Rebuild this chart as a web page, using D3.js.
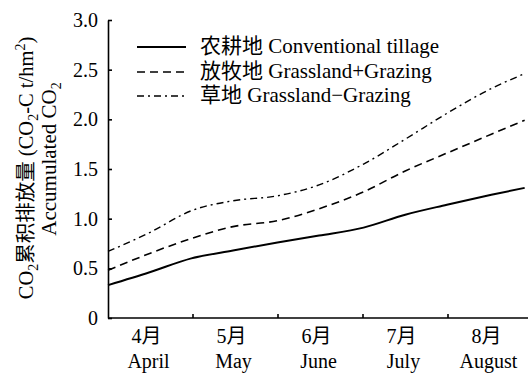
<!DOCTYPE html>
<html>
<head>
<meta charset="utf-8">
<script src="https://cdn.jsdelivr.net/npm/d3@7"></script>
<style>
  html, body { margin: 0; padding: 0; background: #fff; }
  svg { display: block; }
  text { font-family: "Liberation Serif", "Times New Roman", "Noto Sans CJK SC", serif; fill: #000; }
</style>
</head>
<body>
<svg id="chart" width="530" height="378"></svg>
<script>
// Days after 1 April at which the cumulative CO2 flux was sampled
const sampleDays = [0, 15, 30, 45, 61, 76, 92, 107, 122, 138, 150];

// Accumulated CO2 (CO2-C t/hm2) for each land use
const conventionalTillage = [0.33, 0.46, 0.60, 0.68, 0.76, 0.83, 0.91, 1.04, 1.14, 1.24, 1.31];
const grasslandGrazing    = [0.48, 0.65, 0.80, 0.92, 0.98, 1.10, 1.27, 1.48, 1.66, 1.85, 1.99];
const grasslandNoGrazing  = [0.67, 0.86, 1.08, 1.18, 1.23, 1.34, 1.55, 1.80, 2.06, 2.31, 2.46];

// Axis labels
const monthsZh = ["4月", "5月", "6月", "7月", "8月"];
const monthsEn = ["April", "May", "June", "July", "August"];
const yTicks = [0, 0.5, 1.0, 1.5, 2.0, 2.5, 3.0];

const seriesNames = ["农耕地 Conventional tillage", "放牧地 Grassland+Grazing", "草地 Grassland\u2212Grazing"];
const seriesDash = [null, "8,5", "7,4,2,4"];
const seriesWidth = [2, 1.6, 1.4];
const seriesValues = [conventionalTillage, grasslandGrazing, grasslandNoGrazing];

const svg = d3.select("#chart");
const plotLeft = 108, plotRight = 533, plotTop = 20, plotBottom = 318;

const x = d3.scaleLinear().domain([0, 153]).range([plotLeft, plotRight]);
const y = d3.scaleLinear().domain([0, 3]).range([plotBottom, plotTop]);
const band = d3.scaleBand().domain(monthsEn).range([plotLeft, plotRight]);

// Y axis with inward ticks
const yAxis = d3.axisLeft(y)
  .tickValues(yTicks)
  .tickSizeInner(-4)
  .tickSizeOuter(0)
  .tickPadding(10)
  .tickFormat(d => d === 0 ? "0" : d3.format(".1f")(d));
const gy = svg.append("g").attr("transform", `translate(${plotLeft},0)`).call(yAxis);
gy.select(".domain").attr("stroke", "#000").attr("stroke-width", 1.6);
gy.selectAll(".tick line").attr("stroke", "#000").attr("stroke-width", 1.6);
gy.selectAll(".tick text").attr("font-size", 20).style("font-family", "Liberation Serif, serif");

// X axis baseline and month boundary ticks
svg.append("line")
  .attr("x1", plotLeft).attr("x2", 528)
  .attr("y1", plotBottom).attr("y2", plotBottom)
  .attr("stroke", "#000").attr("stroke-width", 1.6);
svg.append("g").selectAll("line")
  .data(monthsEn.slice(1))
  .join("line")
  .attr("x1", d => band(d)).attr("x2", d => band(d))
  .attr("y1", plotBottom).attr("y2", plotBottom - 4)
  .attr("stroke", "#000").attr("stroke-width", 1.6);

const monthLabels = svg.append("g").attr("font-size", 20).attr("text-anchor", "middle");
monthLabels.selectAll("text.zh")
  .data(monthsZh)
  .join("text")
  .attr("class", "zh")
  .attr("x", (d, i) => band(monthsEn[i]) + band.bandwidth() / 2 - 4)
  .attr("y", 343)
  .text(d => d);
monthLabels.selectAll("text.en")
  .data(monthsEn)
  .join("text")
  .attr("class", "en")
  .attr("x", d => band(d) + band.bandwidth() / 2 - 2)
  .attr("y", 368)
  .text(d => d);

// Y axis title (two lines, rotated)
const title1 = svg.append("text")
  .attr("transform", "translate(33,168) rotate(-90)")
  .attr("text-anchor", "middle")
  .attr("font-size", 20.5);
title1.append("tspan").text("CO");
title1.append("tspan").attr("font-size", 14).attr("dy", 5).text("2");
title1.append("tspan").attr("dy", -5).text("累积排放量 (CO");
title1.append("tspan").attr("font-size", 14).attr("dy", 5).text("2");
title1.append("tspan").attr("dy", -5).text("-C t/hm");
title1.append("tspan").attr("font-size", 14).attr("dy", -8).text("2");
title1.append("tspan").attr("dy", 8).text(")");

const title2 = svg.append("text")
  .attr("transform", "translate(56,159) rotate(-90)")
  .attr("text-anchor", "middle")
  .attr("font-size", 21);
title2.append("tspan").text("Accumulated CO");
title2.append("tspan").attr("font-size", 14).attr("dy", 5).text("2");

// Series lines
const line = d3.line()
  .x((d, i) => x(sampleDays[i]))
  .y(d => y(d))
  .curve(d3.curveMonotoneX);

svg.append("g").selectAll("path")
  .data(seriesValues)
  .join("path")
  .attr("d", d => line(d))
  .attr("fill", "none")
  .attr("stroke", "#000")
  .attr("stroke-width", (d, i) => seriesWidth[i])
  .attr("stroke-dasharray", (d, i) => seriesDash[i]);

// Legend
const legend = svg.append("g");
const rowY = [47, 72, 96];
seriesNames.forEach((name, i) => {
  legend.append("line")
    .attr("x1", 137).attr("x2", 186)
    .attr("y1", rowY[i]).attr("y2", rowY[i])
    .attr("stroke", "#000")
    .attr("stroke-width", seriesWidth[i])
    .attr("stroke-dasharray", seriesDash[i]);
  legend.append("text")
    .attr("x", 200).attr("y", rowY[i] + 6)
    .attr("font-size", 21)
    .text(name);
});
</script>
</body>
</html>
